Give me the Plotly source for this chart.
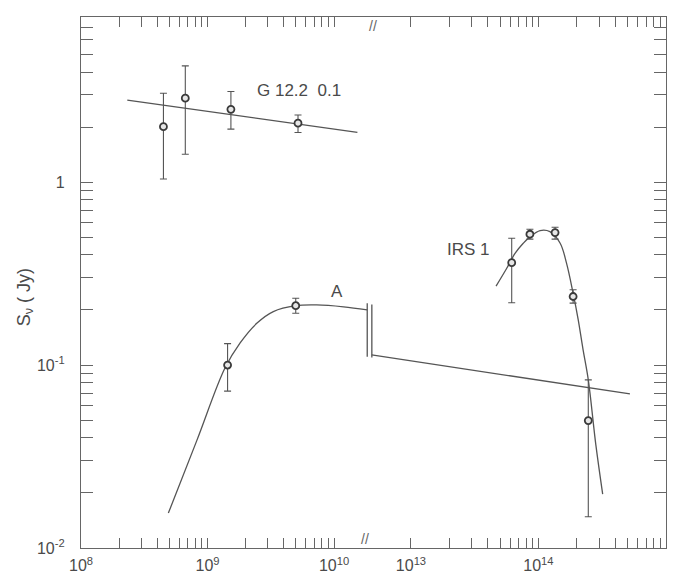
import plotly.graph_objects as go

# ---------------- data ----------------
# G 12.2 0.1
g_freq = [4.48e8, 6.67e8, 1.53e9, 5.19e9]
g_flux = [2.01, 2.88, 2.50, 2.10]
g_hi = [3.06, 4.32, 3.13, 2.33]
g_lo = [1.04, 1.42, 1.95, 1.87]
g_fit_freq = [2.32e8, 1.53e10]
g_fit_flux = [2.81, 1.87]

# Source A (radio)
a_freq = [1.44e9, 4.98e9]
a_flux = [0.100, 0.211]
a_hi = [0.131, 0.232]
a_lo = [0.072, 0.192]
a_curve_freq = [4.90e8, 8.22e8, 1.37e9, 1.81e9, 2.45e9,
                3.31e9, 4.98e9, 7.29e9, 1.19e10, 1.83e10]
a_curve_flux = [0.0155, 0.0386, 0.0960, 0.132, 0.169,
                0.196, 0.211, 0.213, 0.208, 0.200]
# break symbol "||" on the A curve
brk1_freq = [1.83e10, 1.83e10]
brk1_flux = [0.218, 0.111]
brk2_freq = [1.99e10, 1.99e10]
brk2_flux = [0.214, 0.110]
# continuation of A into the infrared part
a_tail_freq = [4.92e12, 5.22e14]
a_tail_flux = [0.1135, 0.0695]

# IRS 1 (infrared)
i_freq = [6.17e13, 8.57e13, 1.35e14, 1.87e14, 2.46e14]
i_flux = [0.363, 0.519, 0.530, 0.237, 0.0497]
i_hi = [0.493, 0.553, 0.567, 0.258, 0.083]
i_lo = [0.219, 0.488, 0.488, 0.218, 0.0148]
i_curve_freq = [4.65e13, 5.64e13, 6.55e13, 7.60e13, 8.57e13, 1.03e14, 1.23e14,
                1.48e14, 1.66e14, 1.87e14, 2.05e14, 2.24e14, 2.46e14, 2.82e14, 3.19e14]
i_curve_flux = [0.270, 0.338, 0.408, 0.463, 0.502, 0.543, 0.536,
                0.463, 0.361, 0.247, 0.177, 0.121, 0.083, 0.0366, 0.0197]

# ticks
x1_ticks = [k * 10.0 ** e for e in (8, 9) for k in range(1, 10)] + [1e10]
x1_text = ["10<sup>8</sup>" if v == 1e8 else "10<sup>9</sup>" if v == 1e9 else
           "10<sup>10</sup>" if v == 1e10 else "" for v in x1_ticks]
x2_ticks = [k * 10.0 ** e for e in (13, 14) for k in range(1, 10)] + [1e15]
x2_text = ["10<sup>13</sup>" if v == 1e13 else "10<sup>14</sup>" if v == 1e14 else
           "10<sup>15</sup>" if v == 1e15 else "" for v in x2_ticks]
y_ticks = [k * 10.0 ** e for e in (-2, -1) for k in range(1, 10)] + [k * 1.0 for k in range(1, 9)]
y_text = ["10<sup>-2</sup>" if abs(v - 0.01) < 1e-12 else
          "10<sup>-1</sup>" if abs(v - 0.1) < 1e-12 else
          "1" if v == 1.0 else "" for v in y_ticks]

# ---------------- style ----------------
LINE = "#555555"
AX = "#666666"
TXT = "#4a4a4a"
FONT = "Liberation Sans"

fig = go.Figure()

def curve(x, y, xa="x", shape="linear"):
    fig.add_trace(go.Scatter(x=x, y=y, mode="lines", xaxis=xa, yaxis="y",
                             line=dict(color=LINE, width=1.3, shape=shape, smoothing=1.0),
                             hoverinfo="skip", showlegend=False))

def points(x, y, hi, lo, xa="x"):
    fig.add_trace(go.Scatter(
        x=x, y=y, mode="markers", xaxis=xa, yaxis="y",
        marker=dict(symbol="circle", size=7, color="#e6e6e6",
                    line=dict(color="#3a3a3a", width=1.8)),
        error_y=dict(type="data", symmetric=False,
                     array=[h - v for h, v in zip(hi, y)],
                     arrayminus=[v - l for v, l in zip(y, lo)],
                     color=LINE, thickness=1.1, width=3.5),
        showlegend=False))

curve(g_fit_freq, g_fit_flux)
curve(a_curve_freq, a_curve_flux, shape="spline")
curve(brk1_freq, brk1_flux)
curve(brk2_freq, brk2_flux)
curve(a_tail_freq, a_tail_flux, xa="x2")
curve(i_curve_freq, i_curve_flux, xa="x2", shape="spline")

points(g_freq, g_flux, g_hi, g_lo)
points(a_freq, a_flux, a_hi, a_lo)
points(i_freq, i_flux, i_hi, i_lo, xa="x2")

axis_common = dict(type="log", showgrid=False, zeroline=False, showline=True,
                   linecolor=AX, linewidth=1.3, ticks="inside", tickcolor=AX,
                   tickwidth=1.1, mirror="ticks", automargin=False,
                   tickfont=dict(family=FONT, size=16, color=TXT))

fig.update_layout(
    width=679, height=575,
    margin=dict(l=81, r=13, t=17, b=27),
    paper_bgcolor="white", plot_bgcolor="white",
    font=dict(family=FONT, color=TXT),
    xaxis=dict(**axis_common, domain=[0, 1], range=[8 - 0.0005, 8 + 585 / 126.5],
               tickmode="array", tickvals=x1_ticks, ticktext=x1_text,
               ticklen=10, ticklabelstandoff=3),
    xaxis2=dict(**axis_common, domain=[0, 1], range=[15 - 585 / 127.5, 15.0005],
                overlaying="x", side="bottom", anchor="y",
                tickmode="array", tickvals=x2_ticks, ticktext=x2_text,
                ticklen=10, ticklabelstandoff=3),
    yaxis=dict(**axis_common, range=[-2.0005, 0.903],
               tickmode="array", tickvals=y_ticks, ticktext=y_text,
               ticklen=12, ticklabelstandoff=12),
)

ann_font = dict(family=FONT, size=17, color=TXT)
fig.add_annotation(x=9.723, y=0.499, xref="x", yref="y", text="G 12.2&nbsp;&nbsp;0.1",
                   showarrow=False, font=ann_font)
fig.add_annotation(x=10.021, y=-0.599, xref="x", yref="y", text="A",
                   showarrow=False, font=dict(family=FONT, size=17, color=TXT))
fig.add_annotation(x=13.455, y=-0.371, xref="x2", yref="y", text="IRS 1",
                   showarrow=False, font=ann_font)
fig.add_annotation(x=-0.118, y=0.473, xref="paper", yref="paper",
                   text="S<sub>ν</sub> ( Jy)", textangle=-90, showarrow=False,
                   font=dict(family=FONT, size=18, color=TXT))
# axis break marks
for xp, yp in ((0.4855, 0.0), (0.499, 1.0)):
    fig.add_annotation(x=xp, y=yp, xref="paper", yref="paper", text="//",
                       showarrow=False, bgcolor="white", borderpad=0,
                       font=dict(family=FONT, size=14, color=AX))

fig.write_html("out.html", config={"displayModeBar": False},
               post_script="document.body.style.margin='0px';document.body.style.overflow='hidden';")
